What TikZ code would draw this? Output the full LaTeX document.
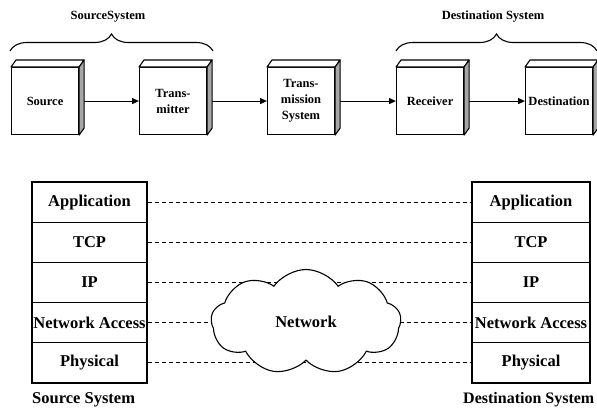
\documentclass[tikz,border=0pt]{standalone}
\usepackage{fontspec}
\setmainfont{Liberation Serif}
\usetikzlibrary{shapes.symbols,decorations.pathreplacing,arrows.meta,calc}
\newcommand\cubebox[3]{%
  \node[face] (#1) at (#2,67) {#3};
  \filldraw[fill=white,line width=1.1pt,line join=round] (#1.north west) -- ++(5,-7) -- ($(#1.north east)+(5,-7)$) -- (#1.north east) -- cycle;
  \filldraw[fill=gray!70,line width=1.1pt,line join=round] (#1.north east) -- ++(5,-7) -- ($(#1.south east)+(5,-7)$) -- (#1.south east) -- cycle;}
\begin{document}
\begin{tikzpicture}[x=1pt,y=-1pt,
  face/.style={draw,line width=1.1pt,fill=white,minimum width=67pt,minimum height=67pt,inner sep=0pt,anchor=north west,font=\fontsize{12.5}{16}\selectfont\bfseries,align=center},
  arr/.style={line width=1.1pt,-{Triangle[length=7pt,width=6pt]}},
  toplbl/.style={font=\fontsize{12.5}{15}\selectfont\bfseries,inner sep=0pt},
  brc/.style={decorate,decoration={brace,amplitude=17pt},line width=1.1pt},
  layer/.style={draw,line width=1.3pt,fill=white,minimum height=40.2pt,inner sep=0pt,font=\fontsize{16.5}{20}\selectfont\bfseries},
  dsh/.style={line width=1pt,dash pattern=on 4.5pt off 2.5pt},
  botlbl/.style={font=\fontsize{16.5}{20}\selectfont\bfseries,inner sep=0pt,anchor=west}]
\useasboundingbox (0,0) rectangle (597,407);
% top row
\cubebox{src}{11}{Source}
\cubebox{tx}{139}{Trans-\\mitter}
\cubebox{tsys}{267}{Trans-\\mission\\System}
\cubebox{rx}{396}{Receiver}
\cubebox{dst}{525}{Destination}
\draw[arr] ($(src.east)+(5,0)$) -- (tx.west);
\draw[arr] ($(tx.east)+(5,0)$) -- (tsys.west);
\draw[arr] ($(tsys.east)+(5,0)$) -- (rx.west);
\draw[arr] ($(rx.east)+(5,0)$) -- (dst.west);
\coordinate (b1l) at (10,51);
\coordinate (b1r) at (213,51);
\coordinate (b2l) at (396,51);
\coordinate (b2r) at (597,51);
\draw[brc] (b1l) -- (b1r);
\draw[brc] (b2l) -- (b2r);
\node[toplbl] (srcsys) at (108,17) {SourceSystem};
\node[toplbl] (dstsys) at (493,17) {Destination System};
% bottom stacks
\node[layer,minimum width=115pt] (la) at (89.5,202.1) {Application};
\node[layer,minimum width=115pt] (lt) at (89.5,242.3) {TCP};
\node[layer,minimum width=115pt] (li) at (89.5,282.5) {IP};
\node[layer,minimum width=115pt] (ln) at (89.5,322.7) {Network Access};
\node[layer,minimum width=115pt] (lp) at (89.5,362.9) {Physical};
\node[layer,minimum width=118pt] (ra) at (531,202.1) {Application};
\node[layer,minimum width=118pt] (rt) at (531,242.3) {TCP};
\node[layer,minimum width=118pt] (ri) at (531,282.5) {IP};
\node[layer,minimum width=118pt] (rn) at (531,322.7) {Network Access};
\node[layer,minimum width=118pt] (rp) at (531,362.9) {Physical};
\draw[dsh] (la.east) -- (ra.west);
\draw[dsh] (lt.east) -- (rt.west);
\draw[dsh] (li.east) -- (ri.west);
\draw[dsh] (ln.east) -- (rn.west);
\draw[dsh] (lp.east) -- (rp.west);
\node[cloud,draw,fill=white,cloud puffs=9,cloud puff arc=110,aspect=1.8,minimum width=190pt,minimum height=105pt,inner sep=0pt,line width=1.1pt,font=\fontsize{16.5}{20}\selectfont\bfseries] (net) at (306,322) {Network};
\node[botlbl] (ssys) at (32,400) {Source System};
\node[botlbl,font=\fontsize{16}{20}\selectfont\bfseries] (dsys) at (463,400) {Destination System};
\end{tikzpicture}
\end{document}
